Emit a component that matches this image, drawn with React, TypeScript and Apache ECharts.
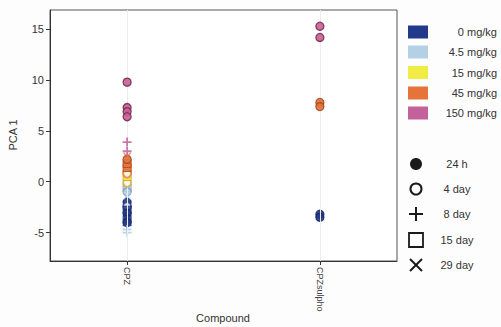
import React, { useEffect, useRef } from 'react';
import * as echarts from 'echarts';

const compounds = ['CPZ', 'CPZsulpho'];
const compoundPos = [1, 2];
const doses = ['0 mg/kg', '4.5 mg/kg', '15 mg/kg', '45 mg/kg', '150 mg/kg'];
const doseColors = ['#233a8c', '#b3d0e4', '#f0ec44', '#e6733a', '#c4609a'];
const doseBorders = ['#1a2a66', '#7f9fbf', '#c9a020', '#a84a22', '#7a2f48'];
const times = ['24 h', '4 day', '8 day', '15 day', '29 day'];
const yTicks = [-5, 0, 5, 10, 15];
const xTitle = 'Compound';
const yTitle = 'PCA 1';

// CPZ values (PCA 1) per dose, with time index
const cpzDose0 = [-2.0, -2.4, -2.8, -3.1, -3.4, -3.7, -4.0, -4.3];
const cpzDose0Times = [0, 1, 3, 0, 4, 3, 0, 2];
const cpzDose4 = [-0.6, -1.0, -1.4, -4.7, -5.0];
const cpzDose4Times = [3, 0, 4, 2, 2];
const cpzDose15 = [-0.1, 0.5, 1.0];
const cpzDose15Times = [1, 3, 0];
const cpzDose45 = [0.8, 1.4, 1.8, 2.2, 2.5];
const cpzDose45Times = [1, 3, 3, 0, 4];
const cpzDose150 = [9.8, 7.3, 6.9, 6.4, 3.9, 3.0];
const cpzDose150Times = [0, 0, 0, 0, 2, 2];

// CPZsulpho values
const sulDose0 = [-3.2, -3.5];
const sulDose0Times = [0, 0];
const sulDose45 = [7.8, 7.4];
const sulDose45Times = [0, 0];
const sulDose150 = [15.3, 14.2];
const sulDose150Times = [0, 0];

const cpzByDose = [cpzDose0, cpzDose4, cpzDose15, cpzDose45, cpzDose150];
const cpzTimesByDose = [cpzDose0Times, cpzDose4Times, cpzDose15Times, cpzDose45Times, cpzDose150Times];
const sulByDose = [sulDose0, [], [], sulDose45, sulDose150];
const sulTimesByDose = [sulDose0Times, [], [], sulDose45Times, sulDose150Times];

const PLUS = 'path://M4,0H6V4H10V6H6V10H4V6H0V4H4Z';
const CROSS = 'path://M1,0L5,4L9,0L10,1L6,5L10,9L9,10L5,6L1,10L0,9L4,5L0,1Z';
const FONT = '11px Liberation Sans, Arial, sans-serif';

function makeItem(x: number, v: number, t: number, d: number) {
  const color = doseColors[d];
  const border = doseBorders[d];
  if (t === 0) {
    return { value: [x, v], symbol: 'circle', symbolSize: 8, itemStyle: { color, borderColor: border, borderWidth: 1.3, opacity: 0.9 } };
  }
  if (t === 1) {
    return { value: [x, v], symbol: 'circle', symbolSize: 8, itemStyle: { color: '#fff', borderColor: color === '#f0ec44' ? '#d9a520' : color, borderWidth: 1.8 } };
  }
  if (t === 2) {
    return { value: [x, v], symbol: PLUS, symbolSize: 9, itemStyle: { color, borderWidth: 0, opacity: 0.85 } };
  }
  if (t === 3) {
    return { value: [x, v], symbol: 'rect', symbolSize: 8, itemStyle: { color, borderColor: border, borderWidth: 1, opacity: 0.85 } };
  }
  return { value: [x, v], symbol: CROSS, symbolSize: 8, itemStyle: { color, borderWidth: 0, opacity: 0.85 } };
}

export default function App() {
  const ref = useRef<HTMLDivElement>(null);
  useEffect(() => {
    if (!ref.current) return;
    const chart = echarts.init(ref.current, null, { renderer: 'svg' });

    const series: any[] = doses.map((name, d) => {
      const data: any[] = [];
      cpzByDose[d].forEach((v, i) => data.push(makeItem(compoundPos[0], v, cpzTimesByDose[d][i], d)));
      sulByDose[d].forEach((v, i) => data.push(makeItem(compoundPos[1], v, sulTimesByDose[d][i], d)));
      const s: any = { type: 'scatter', name, data, z: 3 + d };
      if (d === 0) {
        s.markLine = {
          silent: true,
          symbol: 'none',
          label: { show: false },
          lineStyle: { color: '#ebebf0', width: 1, type: 'solid' },
          data: compoundPos.map((p) => ({ xAxis: p })),
        };
      }
      return s;
    });

    const graphics: any[] = [];
    graphics.push({ type: 'text', x: 223, y: 318, style: { text: xTitle, fill: '#333', font: FONT, textAlign: 'center', textVerticalAlign: 'middle' } });
    graphics.push({ type: 'text', x: 13, y: 135, rotation: Math.PI / 2, style: { text: yTitle, fill: '#333', font: FONT, textAlign: 'center', textVerticalAlign: 'middle' } });
    const doseRowY = [32, 52, 72.5, 93, 113];
    doses.forEach((name, i) => {
      graphics.push({ type: 'rect', shape: { x: 408, y: doseRowY[i] - 6.5, width: 20, height: 13 }, style: { fill: doseColors[i] } });
      graphics.push({ type: 'text', x: 497, y: doseRowY[i], style: { text: name, fill: '#333', font: FONT, textAlign: 'right', textVerticalAlign: 'middle' } });
    });
    const timeRowY = [164, 189, 214, 240, 265];
    const sx = 416;
    const ink = '#1a1a1a';
    graphics.push({ type: 'circle', shape: { cx: sx, cy: timeRowY[0], r: 6 }, style: { fill: ink } });
    graphics.push({ type: 'circle', shape: { cx: sx, cy: timeRowY[1], r: 5.5 }, style: { fill: 'none', stroke: ink, lineWidth: 2 } });
    graphics.push({ type: 'line', shape: { x1: sx - 7, y1: timeRowY[2], x2: sx + 7, y2: timeRowY[2] }, style: { stroke: ink, lineWidth: 2 } });
    graphics.push({ type: 'line', shape: { x1: sx, y1: timeRowY[2] - 7, x2: sx, y2: timeRowY[2] + 7 }, style: { stroke: ink, lineWidth: 2 } });
    graphics.push({ type: 'rect', shape: { x: sx - 7, y: timeRowY[3] - 7, width: 14, height: 14 }, style: { fill: 'none', stroke: ink, lineWidth: 1.8 } });
    graphics.push({ type: 'line', shape: { x1: sx - 6, y1: timeRowY[4] - 6, x2: sx + 6, y2: timeRowY[4] + 6 }, style: { stroke: ink, lineWidth: 2 } });
    graphics.push({ type: 'line', shape: { x1: sx - 6, y1: timeRowY[4] + 6, x2: sx + 6, y2: timeRowY[4] - 6 }, style: { stroke: ink, lineWidth: 2 } });
    times.forEach((t, i) => {
      graphics.push({ type: 'text', x: 457, y: timeRowY[i], style: { text: t, fill: '#333', font: FONT, textAlign: 'center', textVerticalAlign: 'middle' } });
    });

    chart.setOption({
      animation: false,
      backgroundColor: '#fdfdfd',
      textStyle: { fontFamily: 'Liberation Sans, Arial, sans-serif' },
      grid: { left: 50, right: 104, top: 10, bottom: 66, show: true, borderColor: '#555', borderWidth: 1, backgroundColor: '#ffffff', outerBoundsMode: 'none', containLabel: false },
      xAxis: {
        type: 'value',
        min: 0.6,
        max: 2.4,
        axisLine: { onZero: false, lineStyle: { color: '#333' } },
        axisTick: { length: 4, customValues: compoundPos, lineStyle: { color: '#333' } },
        splitLine: { show: false },
        axisLabel: {
          customValues: compoundPos,
          rotate: -90,
          fontSize: 9,
          color: '#444',
          margin: 6,
          formatter: (v: number) => compounds[compoundPos.indexOf(v)] ?? '',
        },
      },
      yAxis: {
        type: 'value',
        min: -7.8,
        max: 16.9,
        axisLine: { show: true, onZero: false, lineStyle: { color: '#333' } },
        axisTick: { show: true, length: 4, customValues: yTicks, lineStyle: { color: '#333' } },
        splitLine: { show: false },
        axisLabel: { customValues: yTicks, fontSize: 11, color: '#333', margin: 6 },
      },
      series,
      graphic: graphics,
    });
    return () => chart.dispose();
  }, []);
  return <div ref={ref} style={{ width: 501, height: 327, position: 'absolute', left: 0, top: 0 }} />;
}
